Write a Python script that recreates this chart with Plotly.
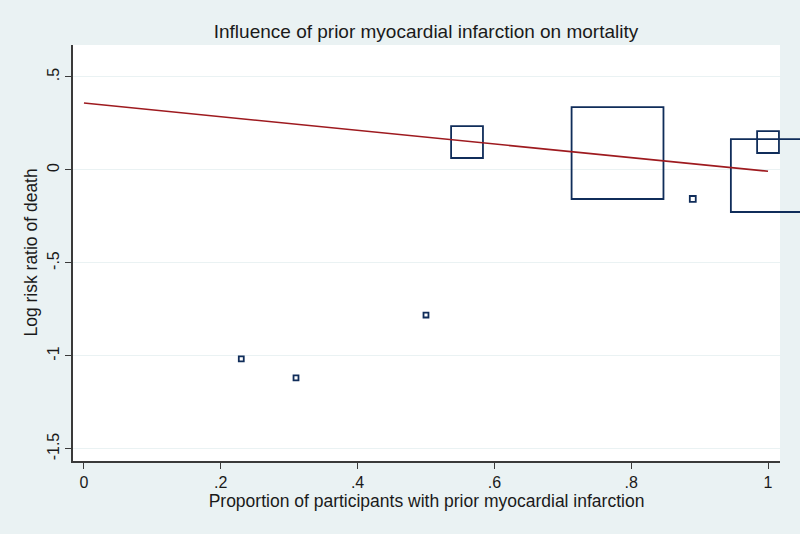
import numpy as np
import plotly.graph_objects as go

# study-level data
prop_mi = [0.23, 0.31, 0.50, 0.56, 0.78, 0.89, 0.999, 1.0]
log_rr = [-1.016, -1.118, -0.78, 0.15, 0.091, -0.156, -0.03, 0.15]
weight = [0.16, 0.16, 0.16, 6.6, 54.9, 0.23, 34.6, 3.1]

# fitted meta-regression line
fit_x = [0.0, 1.0]
fit_y = [0.36, -0.007]

yticks = [0.5, 0, -0.5, -1, -1.5]
yticktext = [".5", "0", "-.5", "-1", "-1.5"]
xticks = [0, 0.2, 0.4, 0.6, 0.8, 1]
xticktext = ["0", ".2", ".4", ".6", ".8", "1"]

bg = "#eaf2f3"
navy = "#102d5a"

sizes = [12.4 * np.sqrt(w) for w in weight]

fig = go.Figure()
fig.add_trace(go.Scatter(
    x=prop_mi, y=log_rr, mode="markers", cliponaxis=False,
    marker=dict(symbol="square-open", size=sizes, color=navy, opacity=1,
                line=dict(color=navy, width=1.8)),
    showlegend=False, hoverinfo="x+y"))
fig.add_trace(go.Scatter(
    x=fit_x, y=fit_y, mode="lines",
    line=dict(color="#9e1a1f", width=1.6), showlegend=False))

fig.update_layout(
    width=800, height=534,
    paper_bgcolor=bg, plot_bgcolor="white",
    margin=dict(l=73, r=20, t=45, b=73),
    font=dict(family="Liberation Sans, Arial, sans-serif", size=16, color="#1a1a1a"),
    title=dict(text="Influence of prior myocardial infarction on mortality",
               x=0.5325, xanchor="center", y=0.942, yanchor="middle",
               font=dict(size=19, color="#1a1a1a")),
)
# y axis title placed by hand
fig.add_annotation(text="Log risk ratio of death", textangle=-90,
                   xref="paper", yref="paper", x=-0.060, y=0.5,
                   xanchor="center", yanchor="middle", showarrow=False,
                   font=dict(size=17.5))
fig.update_xaxes(
    range=[-0.016, 1.0175], tickvals=xticks, ticktext=xticktext,
    showgrid=False, zeroline=False, showline=True, linecolor="#3a3a3a", linewidth=1.5,
    ticks="outside", ticklen=6, tickcolor="#3a3a3a", tickwidth=1.2,
    title=dict(text="Proportion of participants with prior myocardial infarction",
               font=dict(size=17.5), standoff=3),
)
fig.update_yaxes(
    range=[-1.565, 0.672], tickvals=yticks, ticktext=yticktext, tickangle=-90,
    showgrid=True, gridcolor=bg, gridwidth=1.2, zeroline=False,
    showline=True, linecolor="#3a3a3a", linewidth=1.5,
    ticks="outside", ticklen=6, tickcolor="#3a3a3a", tickwidth=1.2,
)

fig.write_html("out.html", config={"displayModeBar": False},
               post_script="document.body.style.margin='0';")
